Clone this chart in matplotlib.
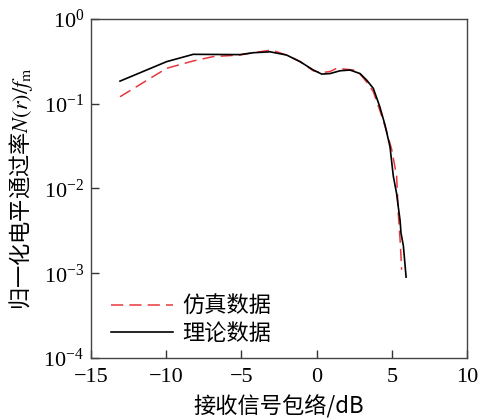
import numpy as np
import matplotlib
matplotlib.use('Agg')
import matplotlib.pyplot as plt

plt.rcParams['font.family'] = ['Liberation Serif', 'Noto Sans CJK SC', 'DejaVu Sans']
plt.rcParams['mathtext.fontset'] = 'stix'

# 理论数据 (black solid)
theory_x = [-13.07, -9.97, -8.2, -5.1, -4.2, -3.1, -2.0, -1.1, -0.22, 0.34, 0.89,
            1.56, 2.22, 2.89, 3.33, 3.77, 4.2, 4.55, 4.88, 5.1, 5.32, 5.43, 5.55,
            5.61, 5.77, 5.95]
theory_y = [0.185, 0.314, 0.383, 0.38, 0.40, 0.41, 0.376, 0.314, 0.25, 0.224, 0.227,
            0.245, 0.25, 0.227, 0.19, 0.152, 0.0925, 0.056, 0.031, 0.014, 0.0087,
            0.0061, 0.0042, 0.0030, 0.0021, 0.0009]

# 仿真数据 (red dashed)
sim_x = [-13.07, -9.97, -8.2, -6.87, -5.1, -4.2, -3.0, -2.0, -1.1, -0.22, 0.34,
         0.89, 1.34, 2.0, 2.44, 2.89, 3.33, 3.77, 4.2, 4.66, 5.0, 5.32, 5.43,
         5.55, 5.61, 5.65]
sim_y = [0.121, 0.262, 0.32, 0.36, 0.376, 0.40, 0.43, 0.376, 0.314, 0.245, 0.233,
         0.24, 0.262, 0.255, 0.25, 0.224, 0.18, 0.139, 0.084, 0.047, 0.0285, 0.014,
         0.0051, 0.0025, 0.0016, 0.0011]

xtick_vals = [-15, -10, -5, 0, 5, 10]
xtick_labels = ['\u221215', '\u221210', '\u22125', '0', '5', '10']

fig = plt.figure(figsize=(4.81, 4.19), dpi=100)
ax = fig.add_axes([91 / 481, 1 - 358 / 419, 376 / 481, 339 / 419])

ax.plot(sim_x, sim_y, color='#e8383d', lw=1.1, dashes=(8, 4), label='仿真数据')
ax.plot(theory_x, theory_y, color='black', lw=1.2, label='理论数据')

ax.set_yscale('log')
ax.set_xlim(-15, 10)
ax.set_ylim(1e-4, 1)
ax.set_xticks(xtick_vals)
ax.set_xticklabels(xtick_labels, fontfamily='Liberation Serif', fontsize=16)
ax.set_yticks([1e-4, 1e-3, 1e-2, 1e-1, 1])
ax.minorticks_off()
ax.tick_params(direction='in', length=6, width=1, labelsize=16, colors='#333333',
               labelcolor='black')
ax.tick_params(axis='x', pad=7)
ax.tick_params(axis='y', pad=5)
for s in ax.spines.values():
    s.set_color('#444444')
    s.set_linewidth(1.0)

ax.set_xlabel('接收信号包络/dB', fontsize=16, family=['Noto Sans CJK SC'], labelpad=6)
ax.set_ylabel('归一化电平通过率$N(r)/f_\\mathrm{m}$', fontsize=16,
              family=['Noto Sans CJK SC'], labelpad=6)

leg = ax.legend(loc='lower left', bbox_to_anchor=(0.0, -0.02), frameon=False,
                prop={'family': 'Noto Sans CJK SC', 'size': 16},
                handlelength=2.8, handletextpad=0.4, labelspacing=0.2)

fig.savefig('out.png', dpi=100)
